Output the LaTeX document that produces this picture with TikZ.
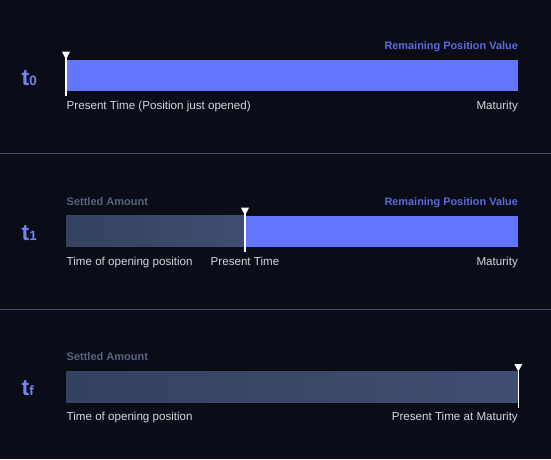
\documentclass[tikz,border=0pt]{standalone}
\usepackage{fontspec}
\setmainfont{Liberation Sans}
\definecolor{bgc}{HTML}{0A0D18}
\definecolor{barblue}{HTML}{6276FF}
\definecolor{settledL}{HTML}{34415F}
\definecolor{settledR}{HTML}{3F4E71}
\definecolor{divc}{HTML}{474B72}
\definecolor{tcol}{HTML}{7682EC}
\definecolor{remcol}{HTML}{5B6AD8}
\definecolor{setcol}{HTML}{56627F}
\definecolor{labcol}{HTML}{D4D6DE}
\tikzset{
  lab/.style={text=labcol,font=\fontsize{11.6}{13}\selectfont,inner sep=0pt},
  rem/.style={text=remcol,font=\fontsize{10.9}{12}\selectfont\bfseries,inner sep=0pt,anchor=base east},
  sett/.style={text=setcol,font=\fontsize{11}{12}\selectfont\bfseries,inner sep=0pt,anchor=base west},
  tlab/.style={text=tcol,inner sep=0pt,anchor=base west},
  markerline/.style={draw=white,line width=1.5pt},
  markertri/.style={fill=white},
  divline/.style={draw=divc,line width=0.8pt},
}
\newcommand{\tname}[1]{{\fontsize{23}{23}\selectfont\bfseries t}{\fontsize{13.5}{13}\selectfont\bfseries #1}}
\begin{document}
\begin{tikzpicture}[x=1pt,y=-1pt]
\fill[bgc] (0,0) rectangle (551,459);
\useasboundingbox (0,0) rectangle (551,459);
% dividers
\coordinate (d1l) at (0,153.3); \coordinate (d1r) at (551,153.3);
\coordinate (d2l) at (0,309.5); \coordinate (d2r) at (551,309.5);
\draw[divline] (d1l) -- (d1r);
\draw[divline] (d2l) -- (d2r);

% ---------- Row 1 ----------
\fill[barblue] (66,60) rectangle (518,91);
\node[tlab] (t0) at (21.5,85) {\tname{0}};
\node[rem] (rem1) at (518,49) {Remaining Position Value};
\node[lab,anchor=base west] (pt1) at (66.5,109.5) {Present Time (Position just opened)};
\node[lab,anchor=base east] (mat1) at (518,109.5) {Maturity};
\coordinate (m1top) at (66,53); \coordinate (m1bot) at (66,95.5);
\draw[markerline] (m1top) -- (m1bot);
\fill[markertri] (62,51.7) -- (70,51.7) -- (66,59.5) -- cycle;

% ---------- Row 2 ----------
\shade[left color=settledL,right color=settledR] (66,215.7) rectangle (245,246.7);
\fill[barblue] (245,215.7) rectangle (518,246.7);
\node[tlab] (t1) at (21.5,240) {\tname{1}};
\node[sett] (set2) at (66.5,205.2) {Settled Amount};
\node[rem] (rem2) at (518,205.2) {Remaining Position Value};
\node[lab,anchor=base west] (top2) at (66.5,265.5) {Time of opening position};
\node[lab,anchor=base] (pt2) at (245,265.5) {Present Time};
\node[lab,anchor=base east] (mat2) at (518,265.5) {Maturity};
\coordinate (m2top) at (245,208); \coordinate (m2bot) at (245,251.5);
\draw[markerline] (m2top) -- (m2bot);
\fill[markertri] (241,207.7) -- (249,207.7) -- (245,215.3) -- cycle;

% ---------- Row 3 ----------
\shade[left color=settledL,right color=settledR] (66,371.7) rectangle (518,402.3);
\node[tlab] (tf) at (21.5,395) {\tname{f}};
\node[sett] (set3) at (66.5,360.5) {Settled Amount};
\node[lab,anchor=base west] (top3) at (66.5,420.5) {Time of opening position};
\node[lab,anchor=base east] (pt3) at (518,420.5) {Present Time at Maturity};
\coordinate (m3top) at (518.3,365); \coordinate (m3bot) at (518.3,408.3);
\draw[markerline] (m3top) -- (m3bot);
\fill[markertri] (514.3,364) -- (522.3,364) -- (518.3,371.5) -- cycle;
\end{tikzpicture}
\end{document}
